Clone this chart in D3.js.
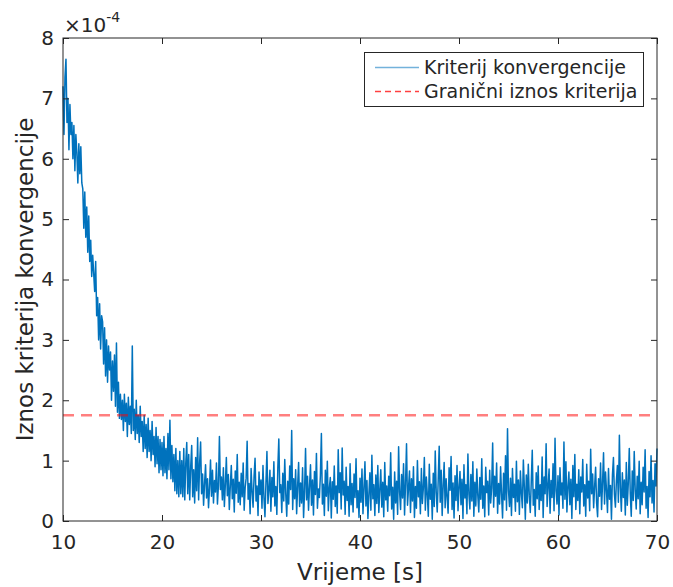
<!DOCTYPE html>
<html>
<head>
<meta charset="utf-8">
<script src="https://cdn.jsdelivr.net/npm/d3@7"></script>
<style>
  body { margin: 0; background: #fff; }
  text { font-family: "DejaVu Sans", sans-serif; fill: #262626; }
</style>
</head>
<body>
<div id="chart"></div>
<script>
// criterion values, units of 1e-6, sampled every 0.1 s starting at 10 s
var TIME_START = 10;
var TIME_STEP = 0.1;
var kriterij = [
  720,640,735,765,660,700,615,690,640,660,600,655,580,640,610,560,625,575,620,560,
  550,485,545,470,520,445,505,430,465,405,440,410,380,430,340,370,300,360,285,340,
  330,260,320,240,300,230,290,250,280,200,265,215,275,190,295,180,230,170,210,168,
  200,150,210,165,195,140,205,160,190,145,290,150,185,135,200,145,175,130,190,140,
  165,115,175,120,160,105,170,115,150,100,165,110,140,90,155,95,140,80,135,85,
  130,75,140,80,120,70,145,85,167,70,125,65,110,50,120,45,100,40,115,45,
  100,40,120,35,95,130,45,110,35,90,125,40,85,30,105,50,138,35,95,131,
  45,78,26,62,93,38,70,22,55,101,41,84,30,67,48,96,28,59,140,52,
  73,35,88,24,61,105,42,77,19,58,92,37,69,15,83,46,110,31,64,27,
  79,40,96,18,55,71,132,36,62,12,87,49,23,74,104,33,58,9,81,44,
  68,21,92,38,7,63,115,29,51,84,16,72,40,98,25,57,11,88,136,47,
  60,14,79,33,102,45,8,66,28,91,52,150,19,70,37,85,12,58,97,24,
  63,30,88,6,49,120,35,74,18,57,93,26,68,10,82,44,112,21,53,39,
  76,145,28,61,9,84,41,99,17,54,72,5,65,36,91,24,58,13,118,47,
  80,20,121,43,66,11,89,34,57,8,95,27,62,15,78,39,103,22,50,6,
  71,31,86,12,54,98,25,67,4,45,80,18,109,37,60,9,76,29,92,14,
  52,85,23,64,7,97,35,58,16,74,42,113,20,56,3,81,30,66,11,123,
  48,19,77,38,95,10,62,128,26,54,83,14,70,33,90,6,57,21,100,40,
  65,12,87,29,55,105,18,73,44,8,94,36,61,3,79,24,116,47,15,68,
  124,31,84,9,58,97,22,70,40,13,88,51,107,19,63,5,75,34,92,17,
  56,82,27,69,4,93,38,60,12,111,45,20,77,33,98,8,64,25,86,42,
  15,72,36,103,21,58,7,89,47,66,10,84,30,55,129,23,74,41,96,13,
  62,28,90,44,5,79,35,108,18,153,50,24,71,9,87,39,61,16,99,32,
  68,11,83,46,22,101,57,3,76,30,94,42,14,65,117,26,52,8,80,37,
  91,19,60,34,106,6,73,45,128,24,58,86,13,67,39,95,17,137,50,28,
  75,10,88,43,63,21,131,36,98,15,56,81,27,69,4,92,40,110,19,61,
  34,85,12,73,48,102,25,60,8,94,38,66,17,119,45,78,22,57,89,30,
  7,70,41,96,19,63,113,28,81,50,14,87,36,59,3,76,105,44,23,67,
  92,31,142,55,16,80,39,68,10,97,26,62,120,45,8,83,34,115,51,20,
  74,37,99,12,64,27,89,48,118,21,57,6,82,40,108,30,67,15,95,58,
  120
];
var granica = 1.75e-4; // threshold value
var xTicks = [10, 20, 30, 40, 50, 60, 70];
var yTicks = [0, 1e-4, 2e-4, 3e-4, 4e-4, 5e-4, 6e-4, 7e-4, 8e-4];
var legendLabels = ["Kriterij konvergencije", "Granični iznos kriterija"];

var WIDTH = 673, HEIGHT = 587;
var margin = {top: 38, right: 16, bottom: 66, left: 63};
var AXIS_COLOR = "#262626";
var TICK_LEN = 6;

var svg = d3.select("#chart").append("svg")
  .attr("width", WIDTH)
  .attr("height", HEIGHT);

var x = d3.scaleLinear().domain([10, 70]).range([margin.left, WIDTH - margin.right]);
var y = d3.scaleLinear().domain([0, 8e-4]).range([HEIGHT - margin.bottom, margin.top]);

var points = kriterij.map(function(v, i) { return {t: TIME_START + i * TIME_STEP, v: v * 1e-6}; });

// data line
var line = d3.line().x(function(d) { return x(d.t) }).y(function(d) { return y(d.v) });
svg.append("path")
  .datum(points)
  .attr("d", line)
  .attr("fill", "none")
  .attr("stroke", "#0072BD")
  .attr("stroke-width", 1.5)
  .attr("stroke-linejoin", "round");

// threshold line
svg.append("line")
  .attr("x1", x(10)).attr("x2", x(70))
  .attr("y1", y(granica)).attr("y2", y(granica))
  .attr("stroke", "#ff0000")
  .attr("stroke-opacity", 0.5)
  .attr("stroke-width", 2.5)
  .attr("stroke-dasharray", "11,7");

// axes, ticks pointing inward, box on all sides
function styleAxis(g) {
  g.select(".domain").remove();
  g.selectAll(".tick line").attr("stroke", AXIS_COLOR);
  g.selectAll(".tick text").attr("font-size", "20px").attr("fill", AXIS_COLOR);
}

var yFmt = function(d) { return Math.round(d * 1e4) };

svg.append("g")
  .attr("transform", "translate(0," + y(0) + ")")
  .call(d3.axisBottom(x).tickValues(xTicks).tickSize(-TICK_LEN).tickPadding(14))
  .call(styleAxis);
svg.append("g")
  .attr("transform", "translate(0," + y(8e-4) + ")")
  .call(d3.axisTop(x).tickValues(xTicks).tickSize(-TICK_LEN).tickFormat(""))
  .call(styleAxis);
svg.append("g")
  .attr("transform", "translate(" + x(10) + ",0)")
  .call(d3.axisLeft(y).tickValues(yTicks).tickSize(-TICK_LEN).tickFormat(yFmt).tickPadding(9))
  .call(styleAxis);
svg.append("g")
  .attr("transform", "translate(" + x(70) + ",0)")
  .call(d3.axisRight(y).tickValues(yTicks).tickSize(-TICK_LEN).tickFormat(""))
  .call(styleAxis);

svg.append("rect")
  .attr("x", x(10)).attr("y", y(8e-4))
  .attr("width", x(70) - x(10)).attr("height", y(0) - y(8e-4))
  .attr("fill", "none")
  .attr("stroke", AXIS_COLOR)
  .attr("stroke-width", 1);

// exponent label
var expo = svg.append("text").attr("x", x(10) + 1).attr("y", 32).attr("font-size", "20px");
expo.append("tspan").text("\u00d710");
expo.append("tspan").attr("dy", -10).attr("font-size", "14px").text("-4");

// axis labels
svg.append("text")
  .attr("x", (x(10) + x(70)) / 2)
  .attr("y", 580)
  .attr("text-anchor", "middle")
  .attr("font-size", "23px")
  .text("Vrijeme [s]");
svg.append("text")
  .attr("transform", "translate(33," + (y(0) + y(8e-4)) / 2 + ") rotate(-90)")
  .attr("text-anchor", "middle")
  .attr("font-size", "23px")
  .text("Iznos kriterija konvergencije");

// legend
var legend = svg.append("g");
legend.append("rect")
  .attr("x", 364.5).attr("y", 52.5)
  .attr("width", 279).attr("height", 54)
  .attr("fill", "#fff")
  .attr("stroke", AXIS_COLOR)
  .attr("stroke-width", 1);
legend.append("line")
  .attr("x1", 375).attr("x2", 419).attr("y1", 67.5).attr("y2", 67.5)
  .attr("stroke", "#0072BD").attr("stroke-opacity", 0.55).attr("stroke-width", 1.5);
legend.append("line")
  .attr("x1", 375).attr("x2", 419).attr("y1", 91.5).attr("y2", 91.5)
  .attr("stroke", "#ff0000").attr("stroke-opacity", 0.75).attr("stroke-width", 1.5)
  .attr("stroke-dasharray", "6,4");
legend.selectAll(".legText")
  .data(legendLabels)
  .enter()
  .append("text")
  .attr("class", "legText")
  .attr("x", 424)
  .attr("y", function(d, i) { return 74 + i * 24 })
  .attr("font-size", "19px")
  .text(function(d) { return d });
</script>
</body>
</html>
